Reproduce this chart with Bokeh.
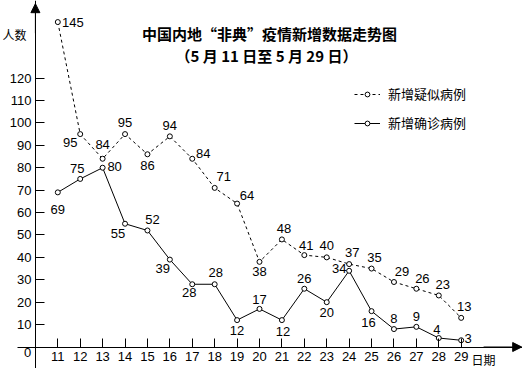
from bokeh.plotting import figure
from bokeh.models import (Range1d, FixedTicker, Label, Arrow, NormalHead,
                          Legend, LegendItem, LinearAxis)
from bokeh.core.properties import value
from bokeh.embed import file_html
from bokeh.resources import INLINE

# ---- data ----
days = list(range(11, 30))
day_labels = [str(d) for d in days]
suspected = [145, 95, 84, 95, 86, 94, 84, 71, 64, 38, 48, 41, 40, 37, 35, 29, 26, 23, 13]
confirmed = [69, 75, 80, 55, 52, 39, 28, 28, 12, 17, 12, 26, 20, 34, 16, 8, 9, 4, 3]
y_ticks = [10, 20, 30, 40, 50, 60, 70, 80, 90, 100, 110, 120]

title1 = "中国内地“非典”疫情新增数据走势图"
title2 = "（5 月 11 日至 5 月 29 日）"
name_sus = "新增疑似病例"
name_con = "新增确诊病例"

# ---- label placement (screen px) ----
sus_dx = [15, -10, 0, 0, 0, 0, 11, 9, 10, 0, 2, 2, 0, 3, 3, 8, 6, 4, 3]
sus_dy = [0, 8, -14, -12, 11, -11, -5, -11, -8, 10, -11, -10, -12, -12, -11, -11, -10, -11, -11]
con_dx = [0, -3, 12, -7, 5, -7, -3, 1, 0, 0, 1, 0, 0, -10, -3, 0, 0, -2, 7]
con_dy = [17, -10, -1, 10, -11, 9, 8, -12, 10, -9, 11, -10, 10, -2, 11, -11, -10, -9, -2]

W, H = 522, 368
NUM_FONT = "Liberation Sans"
CJK_FONT = "Noto Sans CJK SC"

p = figure(width=W, height=H, output_backend="svg", toolbar_location=None,
           x_range=Range1d(8.443, 31.736), y_range=Range1d(-9.594, 154.62),
           x_axis_type=None, y_axis_type=None, min_border=0,
           outline_line_color=None, background_fill_color="white")

xaxis = LinearAxis(fixed_location=0, ticker=FixedTicker(ticks=days),
                   bounds=(9.2, 31.736),
                   major_tick_in=9, major_tick_out=0,
                   minor_tick_in=0, minor_tick_out=0,
                   major_label_standoff=5,
                   major_label_text_font=NUM_FONT,
                   major_label_text_font_size="13px",
                   major_label_text_color="black",
                   axis_line_color="black", major_tick_line_color="black")
xaxis.major_label_overrides = {d: s for d, s in zip(days, day_labels)}
p.add_layout(xaxis, "below")

yaxis = LinearAxis(fixed_location=10, ticker=FixedTicker(ticks=y_ticks),
                   major_tick_in=9, major_tick_out=0,
                   minor_tick_in=0, minor_tick_out=0,
                   major_label_standoff=4,
                   major_label_text_font=NUM_FONT,
                   major_label_text_font_size="13px",
                   major_label_text_color="black",
                   axis_line_color="black", major_tick_line_color="black")
p.add_layout(yaxis, "left")

# axis arrows
p.add_layout(Arrow(end=NormalHead(size=9, fill_color="black", line_color="black"),
                   x_start=10, y_start=140, x_end=10, y_end=153.2,
                   line_color="black", line_width=1))
p.add_layout(Arrow(end=NormalHead(size=9, fill_color="black", line_color="black"),
                   x_start=30, y_start=0, x_end=31.70, y_end=0,
                   line_color="black", line_width=1))

# series
sus_line = p.line(days, suspected, line_color="black", line_width=1, line_dash="3 3")
sus_pts = p.scatter(days, suspected, marker="circle", size=5,
                    fill_color="white", line_color="black", line_width=1)
con_line = p.line(days, confirmed, line_color="black", line_width=1)
con_pts = p.scatter(days, confirmed, marker="circle", size=5,
                    fill_color="white", line_color="black", line_width=1)

p.text(x=days, y=suspected, text=[str(v) for v in suspected],
       x_offset=sus_dx, y_offset=sus_dy,
       text_align="center", text_baseline="middle",
       text_font=value(NUM_FONT), text_font_size="13px", text_color="black")
p.text(x=days, y=confirmed, text=[str(v) for v in confirmed],
       x_offset=con_dx, y_offset=con_dy,
       text_align="center", text_baseline="middle",
       text_font=value(NUM_FONT), text_font_size="13px", text_color="black")

legend = Legend(items=[LegendItem(label=name_sus, renderers=[sus_line, sus_pts]),
                       LegendItem(label=name_con, renderers=[con_line, con_pts])],
                location=(354, 236), padding=0, margin=0, spacing=10,
                glyph_width=26, glyph_height=12, label_height=12,
                label_standoff=8, label_text_font=CJK_FONT,
                label_text_font_size="13px", label_text_color="black",
                border_line_color=None, background_fill_alpha=0)
p.add_layout(legend)

# titles and axis captions (screen units)
p.add_layout(Label(x=269, y=335, x_units="screen", y_units="screen", text=title1,
                   text_align="center", text_baseline="middle",
                   text_font=CJK_FONT, text_font_size="15px", text_font_style="bold",
                   text_color="black"))
p.add_layout(Label(x=266, y=313, x_units="screen", y_units="screen", text=title2,
                   text_align="center", text_baseline="middle",
                   text_font=CJK_FONT, text_font_size="15px", text_font_style="bold",
                   text_color="black"))
p.add_layout(Label(x=2, y=334, x_units="screen", y_units="screen", text="人数",
                   text_align="left", text_baseline="middle",
                   text_font=CJK_FONT, text_font_size="12px", text_color="black"))
p.add_layout(Label(x=483, y=9, x_units="screen", y_units="screen", text="日期",
                   text_align="center", text_baseline="middle",
                   text_font=CJK_FONT, text_font_size="12px", text_color="black"))
p.add_layout(Label(x=27, y=16, x_units="screen", y_units="screen", text="0",
                   text_align="center", text_baseline="middle",
                   text_font=NUM_FONT, text_font_size="13px", text_color="black"))

open("out.html", "w").write(file_html(p, INLINE))
